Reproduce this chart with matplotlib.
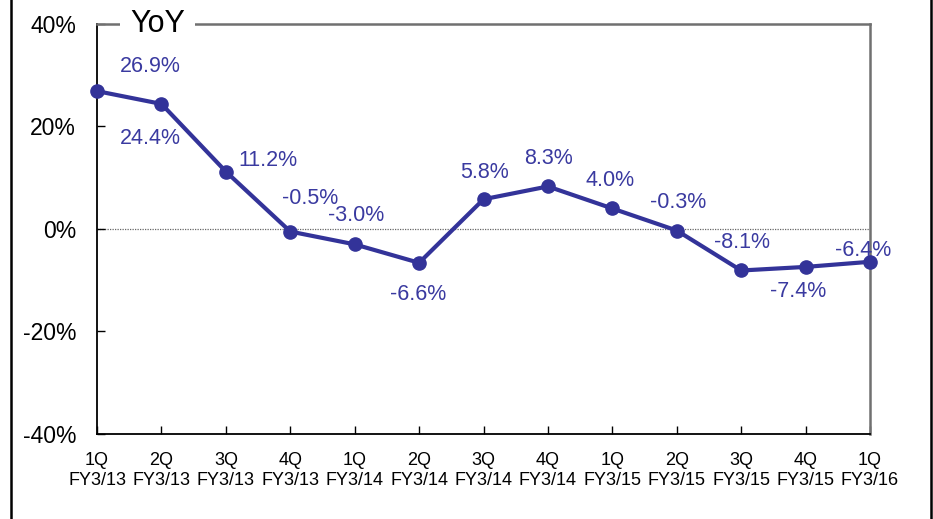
import matplotlib
matplotlib.use("Agg")
import matplotlib.pyplot as plt
from matplotlib.lines import Line2D

plt.rcParams['font.family'] = ['Liberation Sans', 'DejaVu Sans']

quarters = ["1Q", "2Q", "3Q", "4Q", "1Q", "2Q", "3Q", "4Q", "1Q", "2Q", "3Q", "4Q", "1Q"]
fiscal_years = ["FY3/13", "FY3/13", "FY3/13", "FY3/13", "FY3/14", "FY3/14", "FY3/14",
                "FY3/14", "FY3/15", "FY3/15", "FY3/15", "FY3/15", "FY3/16"]
yoy = [26.9, 24.4, 11.2, -0.5, -3.0, -6.6, 5.8, 8.3, 4.0, -0.3, -8.1, -7.4, -6.4]
# label offsets (pixels) relative to each point
label_offsets = [(53, 25), (-11, -35), (42, 11), (20, 33), (1, 29), (-1, -32),
                 (1, 27), (1, 28), (-2, 28), (1, 28), (1, 28), (-7, -25), (-7, 11)]

DPI = 100
fig = plt.figure(figsize=(9.33, 5.19), dpi=DPI)
ax = fig.add_axes([0.104, 0.1638, 0.8285, 0.79])

color = "#333399"
label_color = "#3a3aa0"
x = list(range(len(yoy)))
ax.plot(x, yoy, color=color, lw=3, marker="o", ms=9.5, zorder=3, clip_on=False)
ax.axhline(0, color="#666666", lw=0.9, ls=(0, (1, 1)), zorder=1)

for xi, v, (dx, dy) in zip(x, yoy, label_offsets):
    ax.annotate(f"{v:.1f}%", (xi, v), xytext=(dx, dy), textcoords="offset pixels",
                ha="center", va="center", fontsize=15.5, color=label_color)

ax.set_xlim(0, len(yoy) - 1)
ax.set_ylim(-40, 40)
ax.set_yticks([-40, -20, 0, 20, 40])
ax.set_yticklabels([f"{t}%" for t in [-40, -20, 0, 20, 40]], fontsize=16.5)
ax.set_xticks(x)
ax.set_xticklabels([f"{q}\n{fy}" for q, fy in zip(quarters, fiscal_years)],
                   fontsize=13, linespacing=1.22)
ax.tick_params(axis="y", direction="in", length=6, width=1, pad=15)
ax.tick_params(axis="x", direction="in", length=6, width=1, pad=13)

for s in ["left", "bottom"]:
    ax.spines[s].set_color("black")
    ax.spines[s].set_linewidth(1.3)
for s in ["top", "right"]:
    ax.spines[s].set_color("#707070")
    ax.spines[s].set_linewidth(1.8)

ax.text(0.043, 1.0, "YoY", transform=ax.transAxes, fontsize=22, ha="left", va="center",
        bbox=dict(facecolor="white", edgecolor="none", pad=7), zorder=5)

# outer frame lines
W, H = 933, 519
for xp in (11, 931):
    fig.add_artist(Line2D([xp / W, xp / W], [0, 1], color="black", lw=1.8))

fig.savefig("out.png", dpi=DPI, facecolor="white")
